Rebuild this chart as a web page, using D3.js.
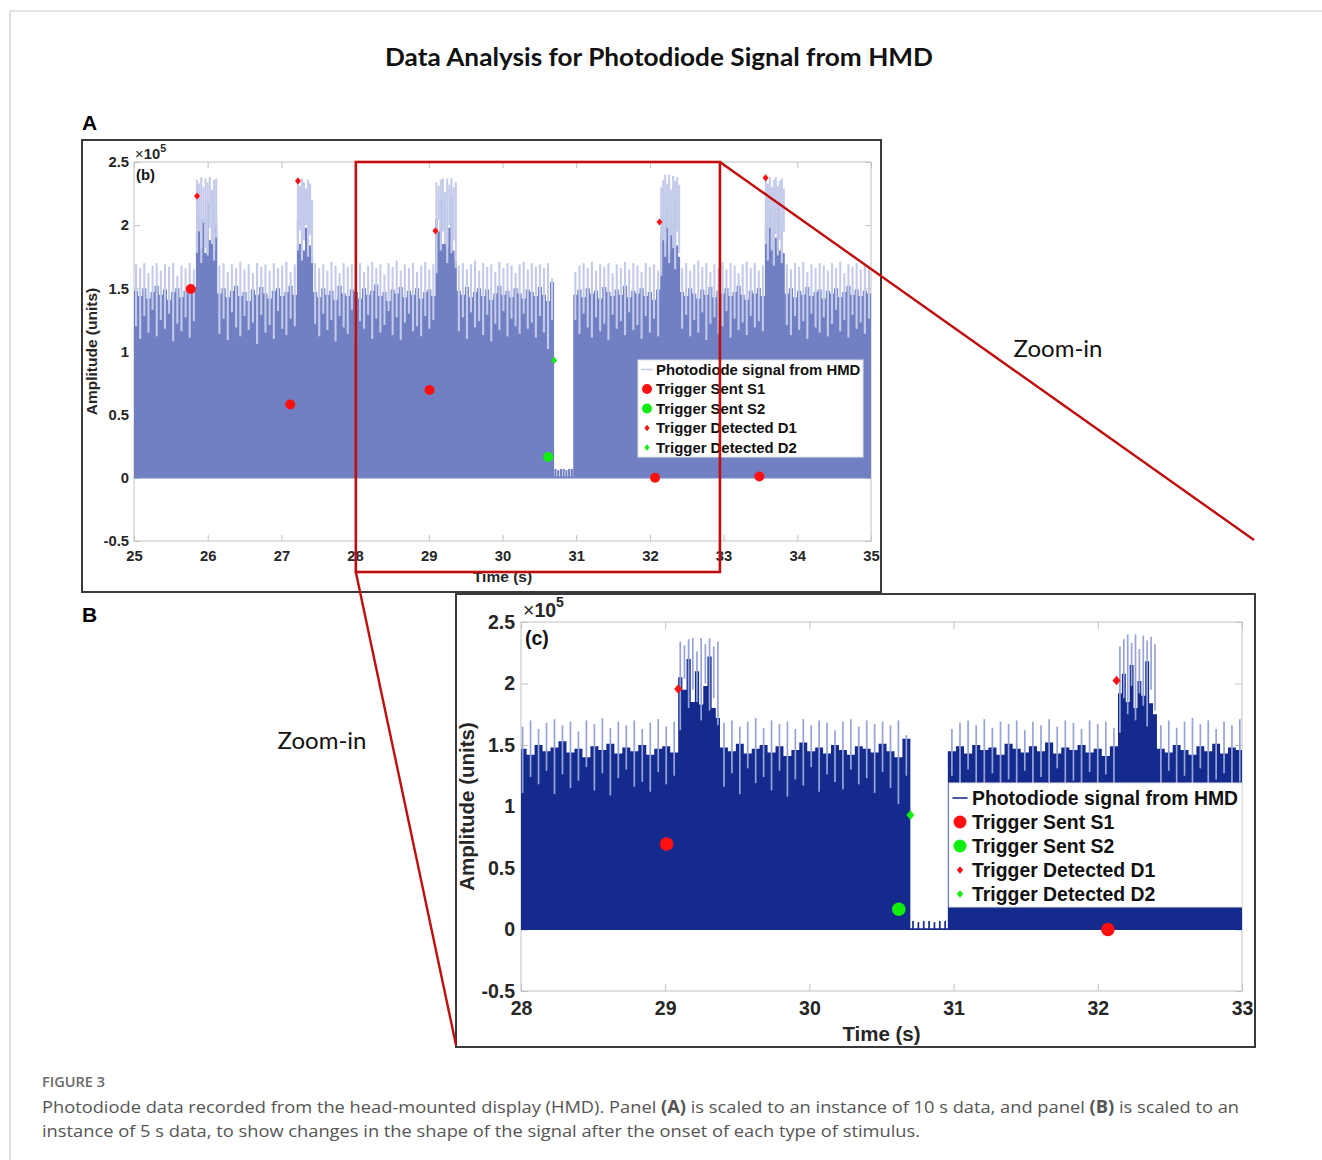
<!DOCTYPE html>
<html><head><meta charset="utf-8">
<script src="https://cdn.jsdelivr.net/npm/d3@7"></script>
<style>
html,body{margin:0;padding:0;background:#fff;}
svg{display:block;}
</style></head>
<body>
<svg id="fig" width="1322" height="1160"></svg>
<script>
// ---------------- DATA (amplitude in units of 1e5, time in s) ----------------
const segStart = [25.00, 25.84, 26.13, 27.21, 27.43, 29.09, 29.38, 30.70, 30.96, 32.14, 32.41, 33.56, 33.83];
const signalEnd = 35.00;
// per-cycle top of the dense part of the signal
const spikeMid = [
  [1.48,1.44,1.50,1.42,1.47,1.52,1.45,1.49,1.41,1.47,1.50,1.43,1.48,1.46,1.51],
  [1.95,2.10,1.82,2.05,1.78,2.18,1.88,1.98,1.80,2.02],
  [1.46,1.50,1.43,1.48,1.52,1.44,1.47,1.40,1.49,1.45,1.51,1.46,1.42,1.48,1.50,1.44,1.47,1.52,1.45],
  [2.05,1.85,2.15,1.80,1.98,2.08,1.84,1.75],
  [1.47,1.43,1.50,1.45,1.48,1.41,1.52,1.46,1.44,1.49,1.47,1.42,1.50,1.45,1.48,1.53,1.44,1.47,1.40,1.49,1.46,1.51,1.43,1.48,1.45,1.50,1.42,1.47,1.49,1.44],
  [2.05,1.95,2.20,1.85,2.10,1.83,1.98,2.22,1.80,1.72],
  [1.48,1.45,1.51,1.43,1.47,1.50,1.44,1.49,1.41,1.46,1.52,1.45,1.48,1.43,1.50,1.46,1.42,1.49,1.47,1.44,1.51,1.45,1.40,1.55],
  [0.01,0.01,0.01,0.01,0.01,0.01,0.01],
  [1.45,1.49,1.43,1.50,1.46,1.48,1.42,1.51,1.47,1.44,1.49,1.45,1.52,1.43,1.48,1.46,1.50,1.44,1.47,1.41,1.49],
  [1.92,2.08,1.85,2.15,1.80,2.02,1.90,2.18,1.84,1.75],
  [1.47,1.44,1.50,1.46,1.42,1.49,1.45,1.51,1.43,1.48,1.46,1.50,1.44,1.47,1.52,1.45,1.41,1.48,1.46,1.50,1.44],
  [2.00,1.86,2.12,1.82,2.06,1.90,2.16,1.80,1.96,1.78],
  [1.46,1.50,1.43,1.48,1.45,1.51,1.44,1.47,1.49,1.42,1.48,1.46,1.50,1.43,1.47,1.52,1.45,1.49,1.44,1.48,1.46]
];
// per-cycle spike maxima
const spikeHi = [
  [1.69,1.66,1.70,1.62,1.68,1.70,1.64,1.69,1.67,1.70,1.60,1.68,1.66,1.70,1.65],
  [2.36,2.33,2.38,2.30,2.37,2.34,2.38,2.28,2.36,2.37],
  [1.68,1.70,1.63,1.69,1.66,1.71,1.65,1.69,1.62,1.70,1.67,1.69,1.64,1.70,1.66,1.68,1.71,1.63,1.69],
  [2.35,2.31,2.37,2.34,2.29,2.36,2.33,2.20],
  [1.70,1.66,1.69,1.64,1.71,1.68,1.62,1.70,1.67,1.69,1.65,1.70,1.63,1.68,1.71,1.66,1.69,1.61,1.70,1.67,1.72,1.64,1.69,1.66,1.70,1.63,1.68,1.71,1.65,1.69],
  [2.34,2.31,2.36,2.37,2.26,2.37,2.32,2.37,2.30,2.34],
  [1.68,1.70,1.65,1.69,1.72,1.64,1.70,1.67,1.69,1.63,1.71,1.66,1.70,1.68,1.62,1.69,1.71,1.65,1.70,1.67,1.69,1.66,1.70,1.58],
  [0.07,0.06,0.07,0.07,0.06,0.07,0.07],
  [1.63,1.68,1.70,1.66,1.71,1.64,1.69,1.67,1.70,1.62,1.69,1.66,1.71,1.65,1.70,1.68,1.63,1.70,1.67,1.69,1.64],
  [2.30,2.36,2.40,2.33,2.40,2.28,2.39,2.35,2.38,2.32],
  [1.66,1.70,1.64,1.69,1.72,1.67,1.70,1.63,1.69,1.66,1.71,1.65,1.70,1.68,1.62,1.69,1.71,1.66,1.70,1.64,1.68],
  [2.37,2.33,2.38,2.30,2.36,2.38,2.31,2.35,2.37,2.29],
  [1.69,1.65,1.70,1.67,1.71,1.63,1.69,1.66,1.70,1.68,1.64,1.70,1.66,1.71,1.62,1.69,1.67,1.70,1.65,1.69,1.66]
];
// per-cycle spike minima
const spikeLo = [
  [1.20,1.10,1.28,1.15,1.33,1.12,1.25,1.18,1.30,1.08,1.22,1.16,1.27,1.11,1.24],
  [1.78,1.95,1.70,2.02,1.82,1.76,1.98,1.85,1.72,1.90],
  [1.14,1.26,1.09,1.31,1.19,1.12,1.28,1.17,1.23,1.06,1.29,1.15,1.21,1.10,1.32,1.18,1.13,1.26,1.20],
  [1.80,1.96,1.72,1.88,2.00,1.75,1.92,1.70],
  [1.22,1.12,1.30,1.17,1.25,1.08,1.28,1.19,1.14,1.33,1.11,1.24,1.18,1.29,1.10,1.26,1.15,1.21,1.32,1.13,1.27,1.09,1.23,1.30,1.16,1.20,1.12,1.28,1.18,1.25],
  [1.62,2.04,1.80,1.95,1.85,1.70,2.00,1.78,1.88,1.66],
  [1.16,1.27,1.10,1.31,1.19,1.24,1.13,1.29,1.08,1.22,1.17,1.32,1.12,1.26,1.20,1.14,1.30,1.18,1.23,1.11,1.28,1.15,1.02,1.25],
  [0,0,0,0,0,0,0],
  [1.25,1.14,1.30,1.19,1.11,1.27,1.16,1.22,1.09,1.29,1.18,1.24,1.13,1.31,1.17,1.21,1.10,1.28,1.15,1.26,1.12],
  [1.60,1.88,1.75,1.98,1.70,1.92,1.82,1.65,1.95,1.78],
  [1.18,1.29,1.12,1.25,1.15,1.31,1.09,1.22,1.27,1.14,1.20,1.32,1.11,1.26,1.17,1.23,1.13,1.28,1.19,1.24,1.16],
  [1.85,1.72,1.98,1.80,1.68,1.93,1.76,1.88,1.70,1.95],
  [1.21,1.13,1.28,1.17,1.24,1.10,1.30,1.19,1.15,1.27,1.12,1.22,1.33,1.16,1.25,1.11,1.29,1.18,1.23,1.14,1.26]
];
const sentS1 = [[25.77,1.495],[27.12,0.58],[29.01,0.695],[32.07,0.0],[33.485,0.01]];
const sentS2 = [[30.62,0.165]];
const detD1  = [[25.855,2.23],[27.225,2.35],[29.09,1.955],[32.13,2.025],[33.57,2.375]];
const detD2  = [[30.70,0.93]];
const yTicks = [-0.5,0,0.5,1,1.5,2,2.5];
const yTickLabels = ["-0.5","0","0.5","1","1.5","2","2.5"];
const xTicksA = [25,26,27,28,29,30,31,32,33,34,35];
const xTicksB = [28,29,30,31,32,33];
const legendLabels = ["Photodiode signal from HMD","Trigger Sent S1","Trigger Sent S2","Trigger Detected D1","Trigger Detected D2"];
const titleText = "Data Analysis for Photodiode Signal from HMD";
const captionHead = "FIGURE 3";

// ---------------- BUILD ----------------
const svg = d3.select("#fig");
const defs = svg.append("defs");
const FONT = "'Liberation Sans', Arial, Helvetica, sans-serif";
const RED = "#ff1010", GREEN = "#10ee10";

const cycles = [];
const bodyPts = [];
segStart.forEach((s, k) => {
  const e = k + 1 < segStart.length ? segStart[k + 1] : signalEnd;
  const n = spikeHi[k].length;
  const step = (e - s) / n;
  spikeHi[k].forEach((h, i) => {
    cycles.push({ t: s + (i + 0.5) * step, hi: h, lo: spikeLo[k][i] });
    bodyPts.push([s + i * step, spikeMid[k][i]]);
  });
});
bodyPts.push([signalEnd, bodyPts[bodyPts.length - 1][1]]);

function diamondPath(cx, cy, hw, hh) {
  return `M${cx},${cy - hh}L${cx + hw},${cy}L${cx},${cy + hh}L${cx - hw},${cy}Z`;
}

// outer page frame
svg.append("line").attr("x1",10).attr("y1",11).attr("x2",1322).attr("y2",11).attr("stroke","#c9c9c9").attr("stroke-width",1.2);
svg.append("line").attr("x1",10).attr("y1",11).attr("x2",10).attr("y2",1160).attr("stroke","#c9c9c9").attr("stroke-width",1.2);

function drawPanel(o) {
  const g = svg.append("g");
  g.append("rect").attr("x", o.frame[0]).attr("y", o.frame[1])
    .attr("width", o.frame[2] - o.frame[0]).attr("height", o.frame[3] - o.frame[1])
    .attr("fill", "#fff").attr("stroke", "#3a3a3a").attr("stroke-width", 2);
  const x = d3.scaleLinear().domain(o.xDomain).range([o.plot[0], o.plot[2]]);
  const y = d3.scaleLinear().domain([-0.5, 2.5]).range([o.plot[3], o.plot[1]]);

  // axes (below data, MATLAB style)
  const ax = g.append("g");
  const AX = "#c2c2c2";
  ax.append("g").attr("transform", `translate(0,${o.plot[3]})`)
    .call(d3.axisBottom(x).tickValues(o.xTicks).tickFormat(d3.format("d")).tickSize(-o.tick).tickPadding(o.xPad));
  ax.append("g").attr("transform", `translate(0,${o.plot[1]})`)
    .call(d3.axisTop(x).tickValues(o.xTicks).tickFormat(() => "").tickSize(-o.tick));
  ax.append("g").attr("transform", `translate(${o.plot[0]},0)`)
    .call(d3.axisLeft(y).tickValues(yTicks).tickFormat((d, i) => yTickLabels[i]).tickSize(-o.tick).tickPadding(o.yPad));
  ax.append("g").attr("transform", `translate(${o.plot[2]},0)`)
    .call(d3.axisRight(y).tickValues(yTicks).tickFormat(() => "").tickSize(-o.tick));
  ax.selectAll(".domain").remove();
  ax.selectAll(".tick line").attr("stroke", AX);
  ax.selectAll("text").attr("font-family", FONT).attr("font-weight", "bold")
    .attr("font-size", o.fs).attr("fill", "#262626");
  ax.append("rect").attr("x", o.plot[0]).attr("y", o.plot[1])
    .attr("width", o.plot[2] - o.plot[0]).attr("height", o.plot[3] - o.plot[1])
    .attr("fill", "none").attr("stroke", AX).attr("stroke-width", 1);

  // signal
  const cid = "clip" + o.id;
  defs.append("clipPath").attr("id", cid).append("rect")
    .attr("x", o.plot[0]).attr("y", o.plot[1])
    .attr("width", o.plot[2] - o.plot[0]).attr("height", o.plot[3] - o.plot[1]);
  const sig = g.append("g").attr("clip-path", `url(#${cid})`);
  sig.append("path").datum(bodyPts)
    .attr("d", d3.area().x(d => x(d[0])).y0(y(0)).y1(d => y(d[1])).curve(d3.curveStepAfter))
    .attr("fill", o.bodyColor);
  sig.append("line").attr("x1", x(segStart[0])).attr("x2", x(signalEnd))
    .attr("y1", y(0)).attr("y2", y(0)).attr("stroke", o.bodyColor).attr("stroke-width", 1.2);
  sig.selectAll("line.spk").data(cycles).join("line").attr("class", "spk")
    .attr("x1", d => x(d.t)).attr("x2", d => x(d.t))
    .attr("y1", d => y(d.lo)).attr("y2", d => y(d.hi))
    .attr("stroke", d => d.hi < 0.5 ? o.bodyColor : o.spikeColor).attr("stroke-width", o.spikeW);

  // markers
  const inDom = d => d[0] >= o.xDomain[0] && d[0] <= o.xDomain[1];
  const mk = g.append("g");
  mk.selectAll("circle.s1").data(sentS1.filter(inDom)).join("circle")
    .attr("cx", d => x(d[0])).attr("cy", d => y(d[1])).attr("r", o.dotR).attr("fill", RED);
  mk.selectAll("circle.s2").data(sentS2.filter(inDom)).join("circle")
    .attr("cx", d => x(d[0])).attr("cy", d => y(d[1])).attr("r", o.dotR).attr("fill", GREEN);
  mk.selectAll("path.d1").data(detD1.filter(inDom)).join("path")
    .attr("d", d => diamondPath(x(d[0]), y(d[1]), o.dia[0], o.dia[1])).attr("fill", RED);
  mk.selectAll("path.d2").data(detD2.filter(inDom)).join("path")
    .attr("d", d => diamondPath(x(d[0]), y(d[1]), o.dia[0], o.dia[1])).attr("fill", GREEN);

  // legend
  const L = o.legend;
  const lg = g.append("g");
  lg.append("rect").attr("x", L.x).attr("y", L.y).attr("width", L.w).attr("height", L.h)
    .attr("fill", "#fff").attr("stroke", "#e2e2e2").attr("stroke-width", 1);
  legendLabels.forEach((lab, i) => {
    const cy = L.y + L.first + i * L.rowH;
    const mx = L.x + L.markX;
    if (i === 0) {
      lg.append("line").attr("x1", mx - L.lineHalf).attr("x2", mx + L.lineHalf).attr("y1", cy).attr("y2", cy)
        .attr("stroke", L.lineColor).attr("stroke-width", 1.6);
    } else if (i === 1 || i === 2) {
      lg.append("circle").attr("cx", mx).attr("cy", cy).attr("r", L.dotR).attr("fill", i === 1 ? RED : GREEN);
    } else {
      lg.append("path").attr("d", diamondPath(mx, cy, L.dia[0], L.dia[1])).attr("fill", i === 3 ? RED : GREEN);
    }
    lg.append("text").attr("x", L.x + L.textX).attr("y", cy).attr("dy", "0.36em")
      .attr("font-family", FONT).attr("font-weight", "bold").attr("font-size", L.fs)
      .attr("fill", "#111").text(lab);
  });

  // exponent, panel tag, axis labels
  const ex = g.append("text").attr("x", o.plot[0] + o.expDx).attr("y", o.plot[1] + o.expDy)
    .attr("font-family", FONT).attr("font-size", o.fs).attr("fill", "#262626");
  ex.append("tspan").text("×");
  ex.append("tspan").attr("font-weight", "bold").text("10");
  ex.append("tspan").attr("font-weight", "bold").attr("font-size", o.fs * 0.72).attr("dy", -o.fs * 0.5).text("5");
  g.append("text").attr("x", o.plot[0] + o.tagDx).attr("y", o.plot[1] + o.tagDy)
    .attr("font-family", FONT).attr("font-weight", "bold").attr("font-size", o.fs).attr("fill", "#111").text(o.tag);
  g.append("text").attr("transform", `translate(${o.ylabX},${(o.plot[1] + o.plot[3]) / 2}) rotate(-90)`)
    .attr("text-anchor", "middle").attr("font-family", FONT).attr("font-weight", "bold")
    .attr("font-size", o.labFs).attr("fill", "#262626").text("Amplitude (units)");
  g.append("text").attr("x", (o.plot[0] + o.plot[2]) / 2).attr("y", o.plot[3] + o.xlabDy)
    .attr("text-anchor", "middle").attr("font-family", FONT).attr("font-weight", "bold")
    .attr("font-size", o.labFs).attr("fill", "#262626").text("Time (s)");
  return { x, y };
}

const A = {
  id: "A", frame: [82, 140, 881, 592], plot: [134, 162, 871, 541], xDomain: [25, 35], xTicks: xTicksA,
  tick: 6, xPad: 9, yPad: 5, fs: 14.8, labFs: 15.5,
  bodyColor: "#7080c2", spikeColor: "#c4cbea", spikeW: 2.1, dotR: 5, dia: [3, 3.6],
  legend: { x: 638, y: 360, w: 225, h: 97, first: 9.5, rowH: 19.5, markX: 9, textX: 18, fs: 14.9,
            dotR: 5, dia: [2.6, 3.2], lineHalf: 6, lineColor: "#c4cbea" },
  expDx: 1, expDy: -3, tag: "(b)", tagDx: 2, tagDy: 18, ylabX: 97, xlabDy: 41
};
const B = {
  id: "B", frame: [456, 594, 1255, 1047], plot: [521, 622, 1242, 991], xDomain: [28, 33], xTicks: xTicksB,
  tick: 7, xPad: 10, yPad: 6, fs: 19.5, labFs: 20.5,
  bodyColor: "#142a8c", spikeColor: "#96a3db", spikeW: 1.7, dotR: 6.8, dia: [4, 4.8],
  legend: { x: 949, y: 783, w: 293, h: 124, first: 15, rowH: 24, markX: 11, textX: 23, fs: 19.4,
            dotR: 6.5, dia: [3.2, 3.8], lineHalf: 7.5, lineColor: "#142a8c" },
  expDx: 2, expDy: -5, tag: "(c)", tagDx: 4, tagDy: 23, ylabX: 474, xlabDy: 50
};

const sA = drawPanel(A);
const sB = drawPanel(B);

// zoom annotation
const ZR = "#c00d0d";
const zL = sA.x(28.01), zR = sA.x(32.95), zT = sA.y(2.5), zB = A.plot[3] + 31;
svg.append("rect").attr("x", zL).attr("y", zT).attr("width", zR - zL).attr("height", zB - zT)
  .attr("fill", "none").attr("stroke", ZR).attr("stroke-width", 2.6);
svg.append("line").attr("x1", zR).attr("y1", zT).attr("x2", B.frame[2] - 1).attr("y2", B.frame[1] - 54)
  .attr("stroke", ZR).attr("stroke-width", 2.4);
svg.append("line").attr("x1", zL).attr("y1", zB).attr("x2", B.frame[0]).attr("y2", B.frame[3] - 2)
  .attr("stroke", ZR).attr("stroke-width", 2.4);

const TF = "Lato, 'Open Sans', sans-serif";
svg.append("text").attr("x", 1058).attr("y", 357).attr("text-anchor", "middle")
  .attr("font-family", TF).attr("font-size", 24).attr("fill", "#111").text("Zoom-in");
svg.append("text").attr("x", 322).attr("y", 749).attr("text-anchor", "middle")
  .attr("font-family", TF).attr("font-size", 24).attr("fill", "#111").text("Zoom-in");

// title
svg.append("text").attr("x", 385).attr("y", 66).attr("textLength", 548).attr("lengthAdjust", "spacingAndGlyphs")
  .attr("font-family", TF).attr("font-weight", "bold").attr("font-size", 24).attr("fill", "#111").text(titleText);

// panel letters
svg.append("text").attr("x", 82).attr("y", 130).attr("font-family", FONT).attr("font-weight", "bold")
  .attr("font-size", 21).attr("fill", "#000").text("A");
svg.append("text").attr("x", 82).attr("y", 622).attr("font-family", FONT).attr("font-weight", "bold")
  .attr("font-size", 21).attr("fill", "#000").text("B");

// caption
const CF = "'Open Sans', Lato, sans-serif";
svg.append("text").attr("x", 42).attr("y", 1087).attr("font-family", CF).attr("font-size", 14)
  .attr("font-weight", 600).attr("fill", "#6a6a6a").attr("textLength", 63).attr("lengthAdjust", "spacingAndGlyphs")
  .text(captionHead);
const c1 = svg.append("text").attr("x", 42).attr("y", 1113).attr("font-family", CF).attr("font-size", 17)
  .attr("fill", "#555").attr("textLength", 1197).attr("lengthAdjust", "spacingAndGlyphs");
c1.append("tspan").text("Photodiode data recorded from the head-mounted display (HMD). Panel ");
c1.append("tspan").attr("font-weight", "bold").text("(A)");
c1.append("tspan").text(" is scaled to an instance of 10 s data, and panel ");
c1.append("tspan").attr("font-weight", "bold").text("(B)");
c1.append("tspan").text(" is scaled to an");
svg.append("text").attr("x", 42).attr("y", 1137).attr("font-family", CF).attr("font-size", 17)
  .attr("fill", "#555").attr("textLength", 878).attr("lengthAdjust", "spacingAndGlyphs")
  .text("instance of 5 s data, to show changes in the shape of the signal after the onset of each type of stimulus.");
</script>
</body></html>
